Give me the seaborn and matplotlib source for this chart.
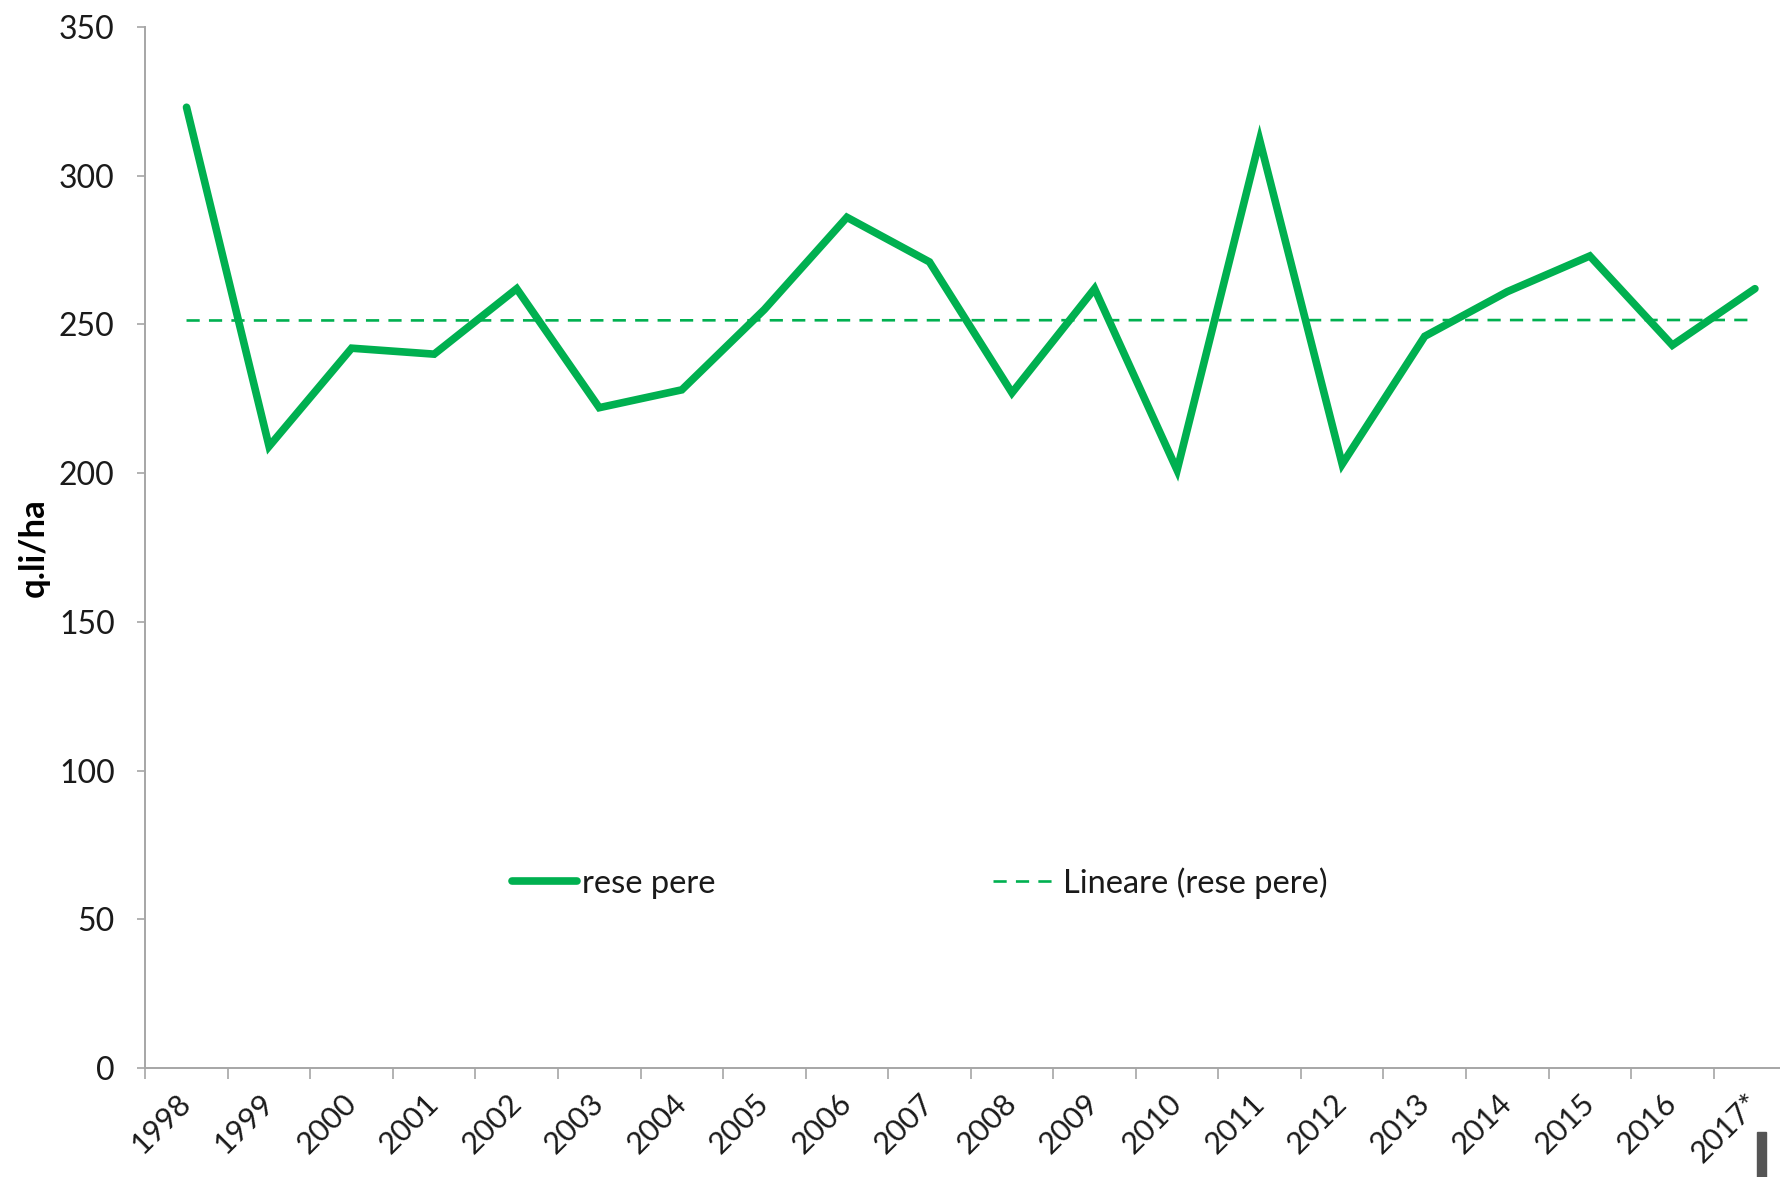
import numpy as np
import pandas as pd
import matplotlib
matplotlib.use("Agg")
import matplotlib.pyplot as plt
from matplotlib.patches import Rectangle
import seaborn as sns

# data
years = ["1998", "1999", "2000", "2001", "2002", "2003", "2004", "2005", "2006", "2007",
         "2008", "2009", "2010", "2011", "2012", "2013", "2014", "2015", "2016", "2017*"]
rese_pere = [323, 209, 242, 240, 262, 222, 228, 255, 286, 271,
             227, 262, 201, 312, 203, 246, 261, 273, 243, 262]
y_ticks = [0, 50, 100, 150, 200, 250, 300, 350]

green = "#00B050"
axis_grey = "#A6A6A6"

sns.set_style("white")
plt.rcParams["font.family"] = ["Lato", "DejaVu Sans"]

df = pd.DataFrame({"pos": np.arange(len(years)), "year": years, "rese": rese_pere})

# linear trend (Excel "Lineare")
coef = np.polyfit(df["pos"], df["rese"], 1)
df["trend"] = np.polyval(coef, df["pos"])

fig = plt.figure(figsize=(17.8, 11.77), dpi=100)
ax = fig.add_axes([0.0816, 0.0926, 0.9275, 0.8845])

sns.lineplot(data=df, x="pos", y="rese", ax=ax, color=green, linewidth=5.5,
             label="rese pere", solid_joinstyle="miter")
sns.lineplot(data=df, x="pos", y="trend", ax=ax, color=green, linewidth=1.9,
             linestyle=(0, (5, 3.5)), label="Lineare (rese pere)")

ax.set_xlim(-0.5, len(years) - 0.5)
ax.set_ylim(0, 350)
ax.set_yticks(y_ticks)
ax.set_yticklabels([str(v) for v in y_ticks])

# ticks between categories, labels at the category centres
ax.set_xticks(np.arange(-0.5, len(years), 1))
ax.set_xticklabels([])
ax.set_xticks(df["pos"], minor=True)
ax.set_xticklabels(years, minor=True, rotation=45, ha="right", va="center",
                   rotation_mode="anchor")

ax.tick_params(axis="x", which="major", length=8, width=1.2, color=axis_grey, direction="out")
ax.tick_params(axis="x", which="minor", length=0, pad=22, labelsize=22, labelcolor="#1a1a1a")
ax.tick_params(axis="y", length=6, width=1.2, color=axis_grey, direction="out",
               pad=16, labelsize=23, labelcolor="#1a1a1a")
ax.tick_params(left=True, bottom=True)

for side in ["top", "right"]:
    ax.spines[side].set_visible(False)
for side in ["left", "bottom"]:
    ax.spines[side].set_color(axis_grey)
    ax.spines[side].set_linewidth(1.4)

ax.set_xlabel("")
ax.set_ylabel("q.li/ha", fontsize=25, fontweight="bold", color="#000000")
ax.yaxis.set_label_coords(-0.058, 0.5)

leg = ax.legend(loc="center", bbox_to_anchor=(0.469, 0.178), ncol=2, frameon=False,
                fontsize=23.5, handlelength=2.0, handletextpad=0.15, columnspacing=8.5)
for t in leg.get_texts():
    t.set_color("#1a1a1a")

# small dark bar cut off at the bottom right of the original picture
fig.patches.append(Rectangle((0.987, 0.0), 0.005, 0.038, transform=fig.transFigure,
                             color="#555555", zorder=5))

fig.savefig("out.png", dpi=100)
